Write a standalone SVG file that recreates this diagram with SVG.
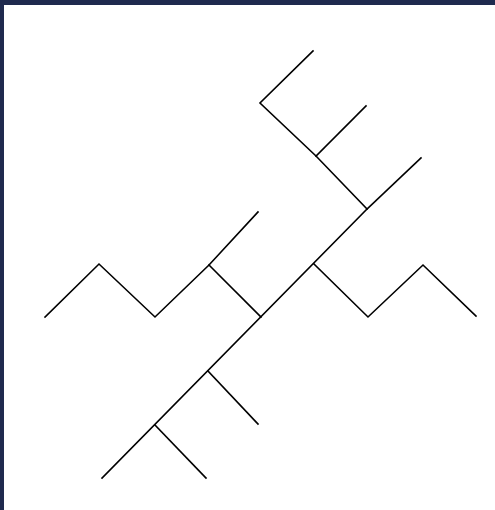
<svg xmlns="http://www.w3.org/2000/svg" width="495" height="510" viewBox="0 0 495 510">
<style>
.l{fill:none;stroke:#000;stroke-width:1.6;stroke-linecap:square;stroke-linejoin:miter}
</style>
<rect x="0" y="0" width="495" height="510" fill="#ffffff"/>
<rect x="0" y="0" width="495" height="5" fill="#1f2a4e"/>
<rect x="0" y="0" width="4" height="510" fill="#1f2a4e"/>
<g id="connectors">
<polyline class="l" points="102,478 367,209 316,156 260,103 313,51"/>
<polyline class="l" points="316,156 366,106"/>
<polyline class="l" points="367,209 421,158"/>
<polyline class="l" points="314,264 368,317 423,265 476,316"/>
<polyline class="l" points="45,317 99,264 155,317 209,265 258,212"/>
<polyline class="l" points="209,265 261,317"/>
<polyline class="l" points="208,371 258,424"/>
<polyline class="l" points="155,425 206,478"/>
</g>
</svg>
